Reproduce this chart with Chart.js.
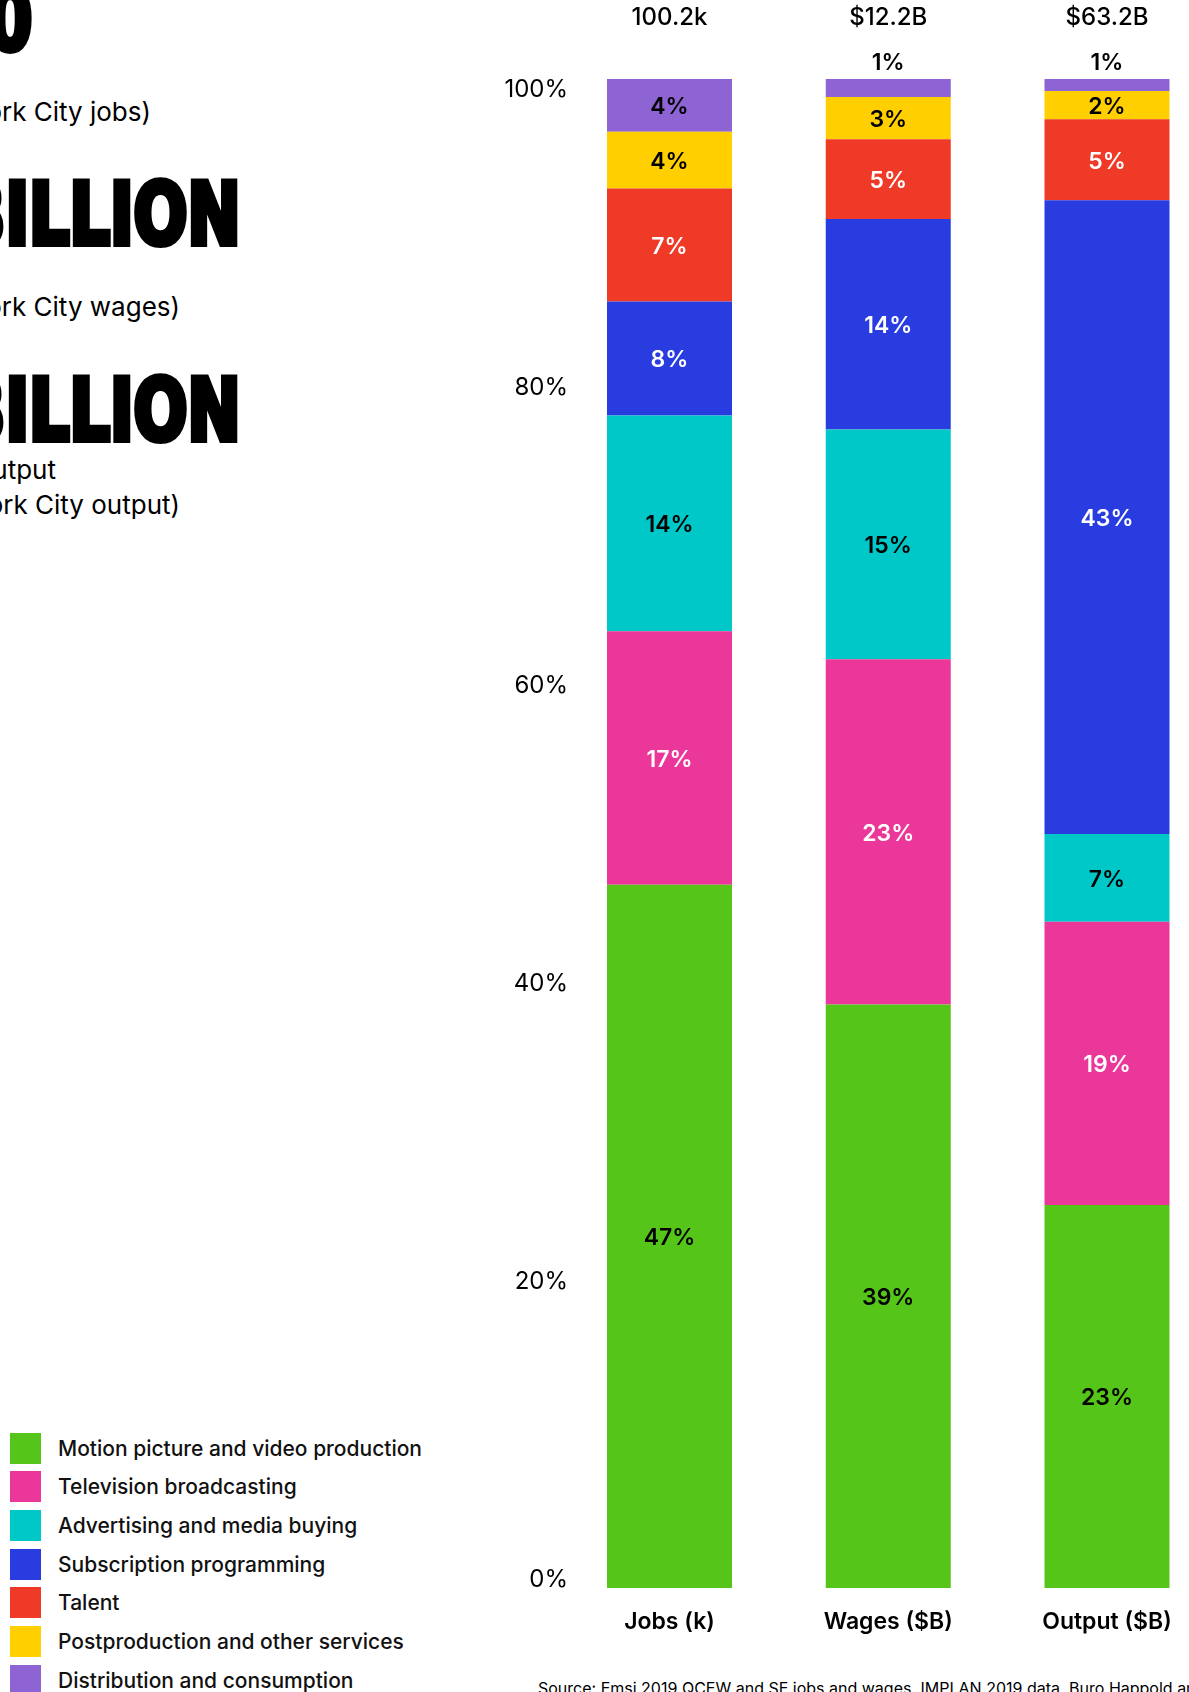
<!DOCTYPE html>
<html>
<head>
<meta charset="utf-8">
<script src="https://cdn.jsdelivr.net/npm/chart.js@4.4.1/dist/chart.umd.min.js"></script>
<style>
  html, body { margin:0; padding:0; width:1189px; height:1692px; overflow:hidden; background:#fff; }
  #c { position:absolute; left:0; top:0; width:1189px; height:1692px; }
  .big { position:absolute; right:948px; font-family:'DejaVu Sans Condensed','DejaVu Sans',sans-serif;
         font-weight:700; font-size:85px; line-height:1; white-space:nowrap; color:#000; letter-spacing:0;
         transform:scaleX(0.83); transform-origin:right center; -webkit-text-stroke:6px #000; }
  .sub { position:absolute; font-family:Inter, sans-serif; font-size:26px; line-height:1; white-space:nowrap; color:#000; }
  #legend { position:absolute; left:0; top:0; }
  .li { position:absolute; left:10px; height:31px; display:flex; align-items:center; white-space:nowrap;
        font-family:Inter, sans-serif; font-weight:500; font-size:21px; color:#111; }
  .sw { width:31px; height:31px; margin-right:17px; flex:none; }
  #source { position:absolute; left:538px; top:1680px; font-family:Inter, sans-serif; font-size:16px; line-height:1; white-space:nowrap; color:#000; }
</style>
</head>
<body>
<div class="big" style="top:-22px; right:1157px;">0</div>
<div class="sub" style="top:99px; right:1038px;">York City jobs)</div>
<div class="big" style="top:172px;">BILLION</div>
<div class="sub" style="top:294px; right:1009px;">York City wages)</div>
<div class="big" style="top:368px;">BILLION</div>
<div class="sub" style="top:457px; right:1133px;">output</div>
<div class="sub" style="top:492px; right:1009px;">York City output)</div>
<div id="legend"></div>
<div id="source">Source: Emsi 2019 QCEW and SE jobs and wages, IMPLAN 2019 data, Buro Happold analysis</div>
<canvas id="c" width="1189" height="1692"></canvas>
<script>
// ---- data ----
const categories = ['Jobs (k)', 'Wages ($B)', 'Output ($B)'];
const totals = ['100.2k', '$12.2B', '$63.2B'];
const yTicks = [0, 20, 40, 60, 80, 100];
const seriesNames = ['Motion picture and video production', 'Television broadcasting', 'Advertising and media buying',
  'Subscription programming', 'Talent', 'Postproduction and other services', 'Distribution and consumption'];
// drawn share of each bar (%)
const motion = [46.6, 38.67, 25.38];
const tv = [16.8, 22.88, 18.77];
const advertising = [14.3, 15.23, 5.82];
const subscription = [7.55, 13.94, 41.99];
const talent = [7.5, 5.28, 5.37];
const postproduction = [3.75, 2.81, 1.87];
const distribution = [3.5, 1.19, 0.80];
// printed labels (%)
const motionLbl = [47, 39, 23];
const tvLbl = [17, 23, 19];
const advertisingLbl = [14, 15, 7];
const subscriptionLbl = [8, 14, 43];
const talentLbl = [7, 5, 5];
const postproductionLbl = [4, 3, 2];
const distributionLbl = [4, 1, 1];

const colors = ['#55C51A', '#EA3799', '#00C8C8', '#283CE0', '#EE3A27', '#FFCF00', '#8E63D4'];
const labelColors = ['#000', '#fff', '#000', '#fff', '#fff', '#000', '#000'];
const values = [motion, tv, advertising, subscription, talent, postproduction, distribution];
const shown = [motionLbl, tvLbl, advertisingLbl, subscriptionLbl, talentLbl, postproductionLbl, distributionLbl];

// legend
const leg = document.getElementById('legend');
seriesNames.forEach((n, i) => {
  const d = document.createElement('div');
  d.className = 'li';
  d.style.top = (1432.5 + i * 38.67) + 'px';
  d.innerHTML = '<div class="sw" style="background:' + colors[i] + '"></div><span>' + n + '</span>';
  leg.appendChild(d);
});

const segLabels = {
  id: 'segLabels',
  afterDatasetsDraw(chart) {
    const ctx = chart.ctx;
    ctx.save();
    ctx.textAlign = 'center';
    ctx.textBaseline = 'middle';
    ctx.font = '600 23px Inter';
    chart.data.datasets.forEach((ds, i) => {
      const meta = chart.getDatasetMeta(i);
      meta.data.forEach((el, j) => {
        const p = el.getProps(['x', 'y', 'base'], true);
        const txt = ds.shown[j] + '%';
        if (ds.data[j] < 1.5) {
          ctx.fillStyle = '#000';
          ctx.fillText(txt, p.x, p.y - 16);
        } else {
          ctx.fillStyle = ds.labelColor;
          ctx.fillText(txt, p.x, (p.y + p.base) / 2 + 2);
        }
      });
    });
    ctx.font = '500 24px Inter';
    ctx.fillStyle = '#000';
    const xs = chart.scales.x;
    totals.forEach((t, j) => ctx.fillText(t, xs.getPixelForValue(j), 18));
    ctx.restore();
  }
};

Chart.defaults.font.family = 'Inter';
new Chart(document.getElementById('c'), {
  type: 'bar',
  data: {
    labels: categories,
    datasets: values.map((v, i) => ({
      label: seriesNames[i], data: v, backgroundColor: colors[i], borderWidth: 0,
      shown: shown[i], labelColor: labelColors[i], clip: false,
      barPercentage: 0.5714, categoryPercentage: 1
    }))
  },
  options: {
    responsive: false, animation: false, devicePixelRatio: 1,
    layout: { padding: { left: 469.5, right: 82, top: 79, bottom: 44 } },
    plugins: { legend: { display: false }, tooltip: { enabled: false } },
    scales: {
      x: { stacked: true, offset: false, grid: { display: false, drawTicks: false, tickLength: 0 }, border: { display: false },
           ticks: { color: '#000', font: { size: 23, weight: '600' }, padding: 20, maxRotation: 0 },
           afterFit(s) { s.height = 60; s.paddingLeft = 0; s.paddingRight = 0; } },
      y: { stacked: true, min: 0, max: 100, display: false },
      yl: { type: 'linear', position: 'left', min: -0.537, max: 100.738,
            grid: { display: false, drawTicks: false, tickLength: 0 }, border: { display: false },
            afterBuildTicks(s) { s.ticks = yTicks.map(v => ({ value: v })); },
            afterFit(s) { s.width = 200; s.paddingTop = 0; s.paddingBottom = 0; },
            ticks: { color: '#000', font: { size: 24, weight: '400' }, padding: 101.5, callback: v => v + '%' } }
    }
  },
  plugins: [segLabels]
});
</script>
</body>
</html>
